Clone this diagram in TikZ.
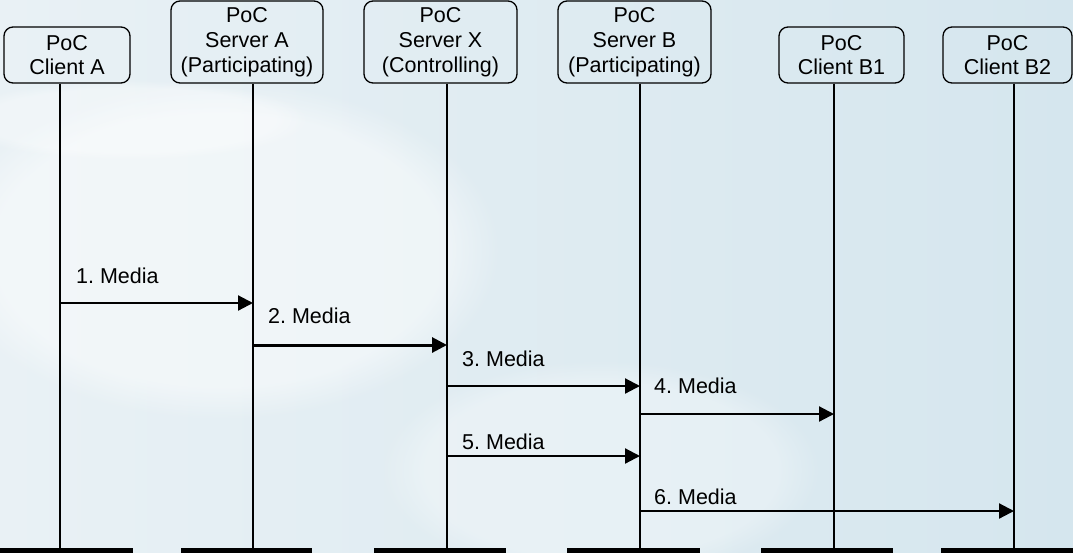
\documentclass[tikz,border=0pt]{standalone}
\usepackage{fontspec}
\setmainfont{Liberation Sans}
\frenchspacing
\usetikzlibrary{arrows.meta,fadings}
\definecolor{bgleft}{HTML}{E9F1F5}
\definecolor{bgmid}{HTML}{E2EDF2}
\definecolor{bgright}{HTML}{D5E6EE}

\begin{document}
\begin{tikzpicture}[x=1pt,y=-1pt,
  txt/.style={font=\fontsize{21.5}{24.8}\selectfont},
  box/.style={txt, draw=black, line width=1.3pt, rounded corners=9pt,
    inner sep=0pt, align=center},
  life/.style={line width=1.5pt},
  msg/.style={line width=2.2pt, -{Triangle[length=15pt,width=15pt]}},
  lbl/.style={txt, anchor=base west, inner sep=0pt},
  bar/.style={fill=black, draw=none, inner sep=0pt, anchor=north west,
    minimum height=6pt}]

% canvas and soft background
\path[use as bounding box] (0,0) rectangle (1073,552);
\shade[left color=bgleft, middle color=bgmid, right color=bgright]
  (0,0) rectangle (1073,552);
\fill[white, opacity=0.45, path fading=circle with fuzzy edge 20 percent]
  (220,250) ellipse [x radius=280pt, y radius=170pt];
\fill[white, opacity=0.30, path fading=circle with fuzzy edge 20 percent]
  (600,470) ellipse [x radius=220pt, y radius=110pt];
\fill[white, opacity=0.35, path fading=circle with fuzzy edge 20 percent]
  (130,120) ellipse [x radius=180pt, y radius=40pt];

% participants
\node[box, minimum width=126pt, minimum height=56pt] (ca)  at (67,55)    {PoC\\Client A};
\node[box, minimum width=152pt, minimum height=82pt] (sa)  at (247,42)   {PoC\\Server A\\(Participating)};
\node[box, minimum width=153pt, minimum height=82pt] (sx)  at (440.5,42) {PoC\\Server X\\(Controlling)};
\node[box, minimum width=153pt, minimum height=82pt] (sb)  at (634.5,42) {PoC\\Server B\\(Participating)};
\node[box, minimum width=125pt, minimum height=56pt] (cb1) at (841.5,55) {PoC\\Client B1};
\node[box, minimum width=129pt, minimum height=56pt] (cb2) at (1007.5,55) {PoC\\Client B2};

% ground bars
\node[bar, minimum width=133pt] (ba)  at (0,548)   {};
\node[bar, minimum width=131pt] (bsa) at (181,548) {};
\node[bar, minimum width=132pt] (bsx) at (374,548) {};
\node[bar, minimum width=133pt] (bsb) at (567,548) {};
\node[bar, minimum width=132pt] (bb1) at (761,548) {};
\node[bar, minimum width=134pt] (bb2) at (941,548) {};

% lifeline positions
\coordinate (la)  at (60,0);
\coordinate (lsa) at (253,0);
\coordinate (lsx) at (447,0);
\coordinate (lsb) at (640,0);
\coordinate (lb1) at (834,0);
\coordinate (lb2) at (1014,0);

\draw[life] (ca.south -| la)   -- (ba.north -| la);
\draw[life] (sa.south -| lsa)  -- (bsa.north -| lsa);
\draw[life] (sx.south -| lsx)  -- (bsx.north -| lsx);
\draw[life] (sb.south -| lsb)  -- (bsb.north -| lsb);
\draw[life] (cb1.south -| lb1) -- (bb1.north -| lb1);
\draw[life] (cb2.south -| lb2) -- (bb2.north -| lb2);

% message rows
\coordinate (m1) at (0,303);
\coordinate (m2) at (0,345);
\coordinate (m3) at (0,386);
\coordinate (m4) at (0,414);
\coordinate (m5) at (0,456);
\coordinate (m6) at (0,511);

\draw[msg] (la |- m1)  -- (lsa |- m1);
\draw[msg, line width=3pt] (lsa |- m2) -- (lsx |- m2);
\draw[msg] (lsx |- m3) -- (lsb |- m3);
\draw[msg] (lsb |- m4) -- (lb1 |- m4);
\draw[msg] (lsx |- m5) -- (lsb |- m5);
\draw[msg] (lsb |- m6) -- (lb2 |- m6);

\node[lbl] (t1) at (76,283)  {1. Media};
\node[lbl] (t2) at (268,323) {2. Media};
\node[lbl] (t3) at (462,366) {3. Media};
\node[lbl] (t4) at (654,393) {4. Media};
\node[lbl] (t5) at (462,449) {5. Media};
\node[lbl] (t6) at (654,504) {6. Media};
\end{tikzpicture}
\end{document}
